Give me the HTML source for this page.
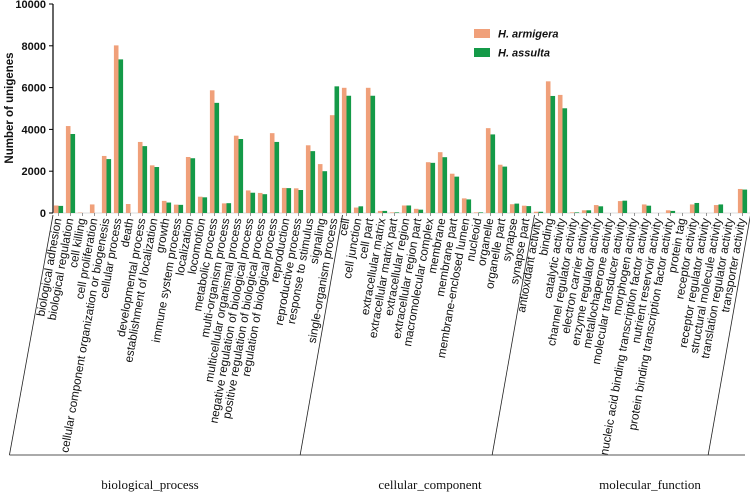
<!DOCTYPE html>
<html><head><meta charset="utf-8"><style>
body{margin:0;background:#fff;}
svg{display:block;font-family:"Liberation Sans",Arial,sans-serif;}
</style></head><body>
<svg id="chart" width="750" height="493" viewBox="0 0 750 493"></svg>
<script>
const categories=["biological adhesion","biological regulation","cell killing","cell proliferation","cellular component organization or biogenesis","cellular process","death","developmental process","establishment of localization","growth","immune system process","localization","locomotion","metabolic process","multi-organism process","multicellular organismal process","negative regulation of biological process","positive regulation of biological process","regulation of biological process","reproduction","reproductive process","response to stimulus","signaling","single-organism process","cell","cell junction","cell part","extracellular matrix","extracellular matrix part","extracellular region","extracellular region part","macromolecular complex","membrane","membrane part","membrane-enclosed lumen","nucleoid","organelle","organelle part","synapse","synapse part","antioxidant activity","binding","catalytic activity","channel regulator activity","electron carrier activity","enzyme regulator activity","metallochaperone activity","molecular transducer activity","morphogen activity","nucleic acid binding transcription factor activity","nutrient reservoir activity","protein binding transcription factor activity","protein tag","receptor activity","receptor regulator activity","structural molecule activity","translation regulator activity","transporter activity"];
const armigera=[360,4160,20,410,2730,8020,430,3400,2280,580,400,2680,780,5870,460,3700,1080,960,3820,1200,1180,3240,2340,4680,5990,260,5990,100,30,360,200,2430,2910,1880,700,30,4060,2310,420,350,60,6300,5650,30,130,380,0,570,0,410,0,130,0,410,0,380,0,1150];
const assulta=[340,3780,0,0,2580,7350,0,3200,2200,500,390,2620,750,5270,470,3540,970,900,3400,1190,1100,2960,2000,6060,5610,320,5610,100,30,360,160,2400,2670,1740,650,30,3760,2220,450,330,60,5600,5010,30,130,320,0,590,0,350,0,100,0,480,0,410,0,1120];
const yTicks=[0,2000,4000,6000,8000,10000];
const groups=["biological_process","cellular_component","molecular_function"];
const groupCounts=[24,16,18];

const NS="http://www.w3.org/2000/svg";
const svg=document.getElementById('chart');
function mk(tag,attrs,parent){const e=document.createElementNS(NS,tag);for(const k in attrs)e.setAttribute(k,attrs[k]);(parent||svg).appendChild(e);return e;}
const y0=213,yTop=4,yMax=10000;
function yS(v){return y0-(v/yMax)*(y0-yTop);}
function xS(i){return 58.5+12*i;}
const slope=0.175;

let ax=mk('line',{x1:53,y1:yTop,x2:53,y2:y0,stroke:'#000','stroke-width':1.2});


yTicks.forEach(t=>{
  const tk=mk('line',{x1:49,y1:yS(t),x2:53,y2:yS(t),stroke:'#000'});
  
  
  const tl=mk('text',{x:46,y:yS(t)+4,'text-anchor':'end','font-size':11,'font-weight':'bold',fill:'#111'});
  tl.textContent=t;
  
  
});
const yt=mk('text',{x:0,y:0,transform:'translate(13,108) rotate(-90)','text-anchor':'middle','font-size':11.5,'font-weight':'bold',fill:'#111'});
yt.textContent='Number of unigenes';



const base=mk('line',{x1:53,y1:y0,x2:750,y2:y0,stroke:'#bbb','stroke-width':0.6});



categories.forEach((c,i)=>{
  const cx=xS(i);
  const a=armigera[i],b=assulta[i];
  const r1=mk('rect',{x:cx-4.6,y:yS(a),width:4.6,height:y0-yS(a),fill:'#F0A07A'});
  
  
  const r2=mk('rect',{x:cx,y:yS(b),width:4.6,height:y0-yS(b),fill:'#149A48'});
  
  
  const tk=mk('line',{x1:cx,y1:y0,x2:cx,y2:y0+3,stroke:'#555','stroke-width':0.6});
  
  
  const t=mk('text',{x:cx+3,y:y0+6,'text-anchor':'end','font-size':11.7,fill:'#111',transform:`rotate(-80 ${cx+3} ${y0+6})`});
  t.textContent=c;
  
  
});

const yb=455,dx=(yb-y0)*slope;
let idx=0;
const bot=mk('line',{x1:53-(yb-y0)*0.18,y1:yb,x2:745,y2:yb,stroke:'#777','stroke-width':1.2});


const bounds=[53];
groupCounts.forEach((n)=>{idx+=n;bounds.push(xS(idx)-4);});
bounds[bounds.length-1]=Math.min(bounds[bounds.length-1],752);
bounds.forEach((bx,k)=>{
  const d=k==0?(yb-y0)*0.18:dx;
  const l=mk('line',{x1:bx,y1:y0+2,x2:bx-d,y2:yb,stroke:'#222','stroke-width':0.8});
  
  
});
const gx=[150,430,650];
groups.forEach((g,k)=>{
  const t=mk('text',{x:gx[k],y:489,'text-anchor':'middle','font-size':13,'font-family':'"Liberation Serif",serif',fill:'#111'});
  t.textContent=g;
  
  
});

const lg=mk('g',{});


const s1=mk('rect',{x:474,y:29,width:16,height:9,fill:'#F0A07A'},lg);


const t1=mk('text',{x:498,y:37.5,'font-size':11,'font-weight':'bold','font-style':'italic',fill:'#111'},lg);
t1.textContent='H. armigera';


const s2=mk('rect',{x:474,y:48,width:16,height:9,fill:'#149A48'},lg);


const t2=mk('text',{x:498,y:56.5,'font-size':11,'font-weight':'bold','font-style':'italic',fill:'#111'},lg);
t2.textContent='H. assulta';


</script>
</body></html>
